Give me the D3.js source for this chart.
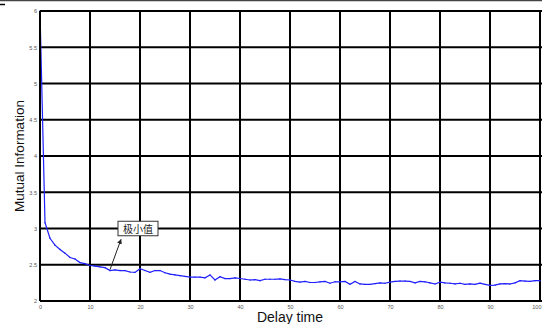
<!DOCTYPE html>
<html>
<head>
<meta charset="utf-8">
<script src="https://cdn.jsdelivr.net/npm/d3@7"></script>
<style>
  body { margin: 0; background: #fff; }
  svg { display: block; font-family: "Liberation Sans", Arial, sans-serif; }
</style>
</head>
<body>
<div id="chart"></div>
<script>
// delay (0..100) and mutual information
const delays = d3.range(0, 101);
const mutualInfo = [
  6.00, 3.08, 2.865, 2.77, 2.71, 2.66, 2.60, 2.58, 2.53, 2.515,
  2.49, 2.48, 2.47, 2.46, 2.42, 2.43, 2.42, 2.42, 2.40, 2.395,
  2.445, 2.42, 2.395, 2.42, 2.42, 2.39, 2.37, 2.36, 2.35, 2.34,
  2.33, 2.33, 2.33, 2.32, 2.36, 2.29, 2.335, 2.31, 2.31, 2.32,
  2.31, 2.30, 2.29, 2.295, 2.28, 2.30, 2.30, 2.30, 2.305, 2.295,
  2.29, 2.27, 2.26, 2.27, 2.255, 2.255, 2.265, 2.27, 2.245, 2.265,
  2.265, 2.27, 2.23, 2.27, 2.235, 2.23, 2.23, 2.24, 2.25, 2.245,
  2.26, 2.27, 2.275, 2.275, 2.27, 2.25, 2.27, 2.265, 2.25, 2.235,
  2.26, 2.25, 2.245, 2.235, 2.245, 2.23, 2.235, 2.23, 2.245, 2.23,
  2.215, 2.22, 2.235, 2.24, 2.235, 2.25, 2.28, 2.275, 2.27, 2.28,
  2.28
];
const xTicks = d3.range(0, 101, 10);
const yTicks = [2, 2.5, 3, 3.5, 4, 4.5, 5, 5.5, 6];
const noteText = "极小值";
const notePoint = [14, 2.42];

const width = 542, height = 324;
const margin = { top: 11, right: 2, bottom: 23, left: 40 };

const svg = d3.select('#chart').append('svg')
  .attr('width', width)
  .attr('height', height);

const x = d3.scaleLinear().domain([0, 100]).range([margin.left, width - margin.right]);
const y = d3.scaleLinear().domain([2, 6]).range([height - margin.bottom, margin.top]);

// crop remnants along the top edge
svg.append('line')
  .attr('x1', 0).attr('x2', width).attr('y1', 0.5).attr('y2', 0.5)
  .attr('stroke', '#444').attr('stroke-width', 1.5);
svg.append('line')
  .attr('x1', 0).attr('x2', 5).attr('y1', 4.5).attr('y2', 4.5)
  .attr('stroke', '#000').attr('stroke-width', 1.5);

// grid
const grid = svg.append('g');
grid.selectAll('line.vg')
  .data(xTicks)
  .enter().append('line')
  .attr('class', 'vg')
  .attr('x1', d => x(d)).attr('x2', d => x(d))
  .attr('y1', y(6)).attr('y2', y(2))
  .attr('stroke', '#000').attr('stroke-width', 2);
grid.selectAll('line.hg')
  .data(yTicks)
  .enter().append('line')
  .attr('class', 'hg')
  .attr('x1', x(0)).attr('x2', width)
  .attr('y1', d => y(d)).attr('y2', d => y(d))
  .attr('stroke', '#000').attr('stroke-width', 2);

// axes with tiny grey labels
const xAxis = svg.append('g')
  .attr('transform', `translate(0,${y(2)})`)
  .call(d3.axisBottom(x).tickValues(xTicks).tickSize(0).tickPadding(4));
const yAxis = svg.append('g')
  .attr('transform', `translate(${x(0)},0)`)
  .call(d3.axisLeft(y).tickValues(yTicks).tickSize(0).tickPadding(3).tickFormat(d3.format('~g')));
[xAxis, yAxis].forEach(a => {
  a.select('.domain').remove();
  a.selectAll('text')
    .attr('fill', '#555')
    .style('font-size', '5.5px')
    .style('font-family', '"Liberation Sans", Arial, sans-serif');
});
// keep the last x label inside the window
xAxis.selectAll('text').filter(d => d === 100).attr('text-anchor', 'end').attr('dx', '1px');

// the curve
const line = d3.line()
  .x((d, i) => x(delays[i]))
  .y(d => y(d));
svg.append('path')
  .datum(mutualInfo)
  .attr('fill', 'none')
  .attr('stroke', '#1f1fff')
  .attr('stroke-width', 1.2)
  .attr('d', line);
svg.selectAll('circle.pt')
  .data(mutualInfo)
  .enter().append('circle')
  .attr('class', 'pt')
  .attr('cx', (d, i) => x(delays[i]))
  .attr('cy', d => y(d))
  .attr('r', 0.7)
  .attr('fill', '#1f1fff');

// annotation box + arrow
const defs = svg.append('defs');
defs.append('marker')
  .attr('id', 'arrow')
  .attr('viewBox', '0 0 10 10')
  .attr('refX', 9).attr('refY', 5)
  .attr('markerWidth', 5).attr('markerHeight', 5)
  .attr('orient', 'auto')
  .append('path')
  .attr('d', 'M0,0 L10,5 L0,10 Z')
  .attr('fill', '#222');

const boxX = x(15.6), boxY = y(3.1), boxW = x(23.6) - x(15.6), boxH = y(2.9) - y(3.1);
svg.append('rect')
  .attr('x', boxX).attr('y', boxY)
  .attr('width', boxW).attr('height', boxH)
  .attr('fill', '#fff')
  .attr('stroke', '#333').attr('stroke-width', 1);
svg.append('text')
  .attr('x', boxX + boxW / 2).attr('y', boxY + boxH / 2)
  .attr('text-anchor', 'middle')
  .attr('dominant-baseline', 'central')
  .style('font-family', '"Noto Sans CJK SC", sans-serif')
  .style('font-size', '10px')
  .attr('fill', '#222')
  .text(noteText);
svg.append('line')
  .attr('x1', x(notePoint[0])).attr('y1', y(notePoint[1]) - 1)
  .attr('x2', x(16.2)).attr('y2', y(2.85))
  .attr('stroke', '#222').attr('stroke-width', 1)
  .attr('marker-end', 'url(#arrow)');

// frame
svg.append('line')
  .attr('x1', x(0)).attr('x2', width).attr('y1', y(6)).attr('y2', y(6))
  .attr('stroke', '#000').attr('stroke-width', 2);
svg.append('line')
  .attr('x1', x(0)).attr('x2', width).attr('y1', y(2)).attr('y2', y(2))
  .attr('stroke', '#000').attr('stroke-width', 2);
svg.append('line')
  .attr('x1', x(0)).attr('x2', x(0)).attr('y1', y(6)).attr('y2', y(2))
  .attr('stroke', '#000').attr('stroke-width', 2);

// axis titles
svg.append('text')
  .attr('x', (x(0) + x(100)) / 2).attr('y', 322)
  .attr('text-anchor', 'middle')
  .style('font-size', '14px')
  .attr('fill', '#111')
  .text('Delay time');
svg.append('text')
  .attr('transform', `translate(24,${(y(2) + y(6)) / 2}) rotate(-90)`)
  .attr('text-anchor', 'middle')
  .style('font-size', '13.5px')
  .attr('fill', '#111')
  .text('Mutual Information');
</script>
</body>
</html>
